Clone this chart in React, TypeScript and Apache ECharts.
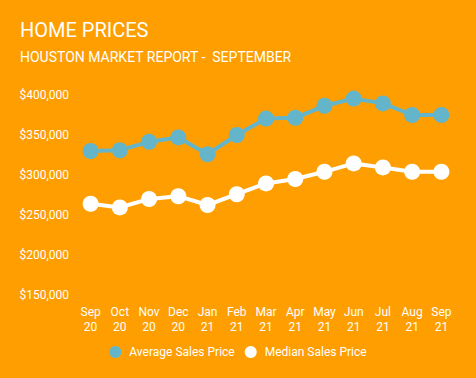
import React, { useEffect, useRef } from "react";
import * as echarts from "echarts";

const categories = ["Sep\n20", "Oct\n20", "Nov\n20", "Dec\n20", "Jan\n21", "Feb\n21", "Mar\n21", "Apr\n21", "May\n21", "Jun\n21", "Jul\n21", "Aug\n21", "Sep\n21"];
const averagePrice = [330000, 331000, 341500, 347000, 326000, 350000, 370500, 371500, 386500, 395500, 389500, 375000, 375000];
const medianPrice = [264000, 259500, 270000, 273500, 262500, 276000, 289500, 295000, 304000, 314500, 309500, 304000, 304000];
const yTicks = { min: 150000, max: 400000, interval: 50000 };

export default function App() {
  const ref = useRef<HTMLDivElement>(null);
  useEffect(() => {
    if (!ref.current) return;
    const chart = echarts.init(ref.current, null, { renderer: "svg" });
    const font = "Roboto";
    chart.setOption({
      animation: false,
      backgroundColor: "#FF9E00",
      textStyle: { fontFamily: font },
      title: {
        text: "HOME PRICES",
        subtext: "HOUSTON MARKET REPORT -  SEPTEMBER",
        left: 20,
        top: 20,
        padding: 0,
        itemGap: 10,
        textStyle: { color: "#fff", fontSize: 20, fontWeight: "normal", fontFamily: font },
        subtextStyle: { color: "#fff", fontSize: 14, fontFamily: font },
      },
      legend: {
        bottom: 15,
        left: "center",
        icon: "circle",
        itemWidth: 18,
        itemHeight: 12,
        itemGap: 10,
        textStyle: { color: "#fff", fontSize: 12, fontFamily: font },
        data: ["Average Sales Price", "Median Sales Price"],
      },
      grid: { left: 76, right: 20, top: 95, bottom: 83, containLabel: false },
      xAxis: {
        type: "category",
        data: categories,
        boundaryGap: true,
        axisLine: { show: false },
        axisTick: { show: false },
        axisLabel: { color: "#fff", fontSize: 12, lineHeight: 15, margin: 9, interval: 0, fontFamily: font },
      },
      yAxis: {
        type: "value",
        min: yTicks.min,
        max: yTicks.max,
        interval: yTicks.interval,
        splitLine: { show: false },
        axisLine: { show: false },
        axisTick: { show: false },
        axisLabel: {
          color: "#fff",
          fontSize: 12,
          margin: 7,
          fontFamily: font,
          formatter: (v: number) => "$" + v.toLocaleString("en-US"),
        },
      },
      series: [
        {
          name: "Average Sales Price",
          type: "line",
          data: averagePrice,
          color: "#64B5C9",
          symbol: "circle",
          symbolSize: 16,
          lineStyle: { width: 4, color: "#64B5C9" },
          itemStyle: { color: "#64B5C9" },
        },
        {
          name: "Median Sales Price",
          type: "line",
          data: medianPrice,
          color: "#fff",
          symbol: "circle",
          symbolSize: 16,
          lineStyle: { width: 4, color: "#fff" },
          itemStyle: { color: "#fff" },
        },
      ],
    });
    return () => chart.dispose();
  }, []);
  return <div ref={ref} style={{ position: "fixed", left: 0, top: 0, width: 476, height: 378 }} />;
}
